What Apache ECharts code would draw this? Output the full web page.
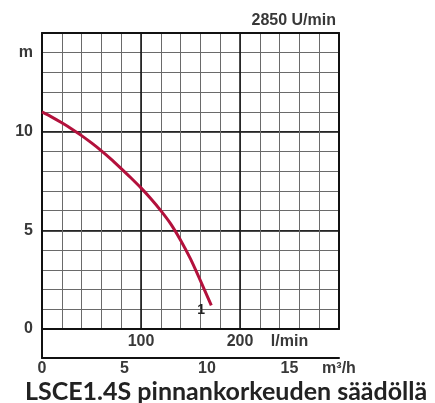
<!DOCTYPE html>
<html><head><meta charset="utf-8">
<script src="https://cdn.jsdelivr.net/npm/echarts@6/dist/echarts.min.js"></script>
<style>html,body{margin:0;padding:0;background:#fff}#c{width:435px;height:403px}</style>
</head><body><div id="c"></div>
<script>
// Data
const flowLmin = [0, 10, 20, 30, 40, 50, 60, 70, 80, 90, 100, 110, 120, 130, 140, 150, 160, 171];
const headM = [11.0, 10.74, 10.45, 10.14, 9.8, 9.43, 9.03, 8.6, 8.13, 7.65, 7.15, 6.6, 6.0, 5.33, 4.5, 3.55, 2.45, 1.2];
const curveName = '1';
const lminLabels = {100: '100', 200: '200', 250: 'l/min'};
const m3hLabels = {0: '0', 5: '5', 10: '10', 15: '15', 18: 'm³/h'};
const yLabels = {0: '0', 5: '5', 10: '10', 14: 'm'};
const titleText = 'LSCE1.4S pinnankorkeuden säädöllä';
const speedText = '2850 U/min';

const chart = echarts.init(document.getElementById('c'), null, {renderer: 'canvas'});
const labelFont = {fontFamily: 'Liberation Sans, Arial, sans-serif', fontWeight: 'bold', fontSize: 16, color: '#383838'};
const thin = '#6a6a6a', bold = '#111';

chart.setOption({
  animation: false,
  title: [
    {text: titleText, left: 25, top: 379, textStyle: {fontFamily: 'Lato', fontWeight: 'bold', fontSize: 25, color: '#222'}, padding: 0},
    {text: speedText, right: 99, top: 13, textStyle: Object.assign({}, labelFont), padding: 0}
  ],
  grid: [
    {left: 42, top: 33, width: 297, height: 296, containLabel: false},
    {left: 42, top: 329, width: 297, height: 29, containLabel: false}
  ],
  xAxis: [
    {type: 'value', gridIndex: 0, position: 'bottom', min: 0, max: 300, interval: 10,
     axisLine: {show: true, onZero: false, lineStyle: {color: bold, width: 2}}, axisTick: {show: false},
     axisLabel: Object.assign({interval: 0, margin: 5, formatter: v => lminLabels[v] || ''}, labelFont),
     splitLine: {show: true, lineStyle: {color: [thin, 'rgba(0,0,0,0)'], width: 1}}},
    {type: 'value', gridIndex: 0, position: 'top', min: 0, max: 300, interval: 100,
     axisLine: {show: true, onZero: false, lineStyle: {color: bold, width: 2}}, axisTick: {show: false}, axisLabel: {show: false},
     splitLine: {show: true, lineStyle: {color: bold, width: 1.5}}},
    {type: 'value', gridIndex: 1, position: 'bottom', min: 0, max: 18, interval: 1,
     axisLine: {show: true, onZero: false, lineStyle: {color: bold, width: 2}}, axisTick: {show: false},
     axisLabel: Object.assign({interval: 0, margin: 3, formatter: v => m3hLabels[v] || ''}, labelFont),
     splitLine: {show: false}}
  ],
  yAxis: [
    {type: 'value', gridIndex: 0, position: 'left', min: 0, max: 15, interval: 1,
     axisLine: {show: true, onZero: false, lineStyle: {color: bold, width: 2}}, axisTick: {show: false},
     axisLabel: Object.assign({margin: 9, formatter: v => yLabels[v] || ''}, labelFont),
     splitLine: {show: true, lineStyle: {color: thin, width: 1}}},
    {type: 'value', gridIndex: 0, position: 'right', min: 0, max: 15, interval: 5,
     axisLine: {show: true, onZero: false, lineStyle: {color: bold, width: 2}}, axisTick: {show: false}, axisLabel: {show: false},
     splitLine: {show: true, lineStyle: {color: bold, width: 1.5}}},
    {type: 'value', gridIndex: 1, position: 'left', min: 0, max: 1,
     axisLine: {show: true, onZero: false, lineStyle: {color: bold, width: 2}}, axisTick: {show: false}, axisLabel: {show: false},
     splitLine: {show: false}}
  ],
  series: [{
    type: 'line', xAxisIndex: 0, yAxisIndex: 0, smooth: 0.3, symbol: 'none',
    data: flowLmin.map((f, i) => [f, headM[i]]),
    lineStyle: {color: '#b3113c', width: 3},
    endLabel: {show: true, formatter: curveName, offset: [-22, 5], fontFamily: 'Liberation Sans, Arial', fontWeight: 'bold', fontSize: 14, color: '#222'}
  }]
});
</script></body></html>
